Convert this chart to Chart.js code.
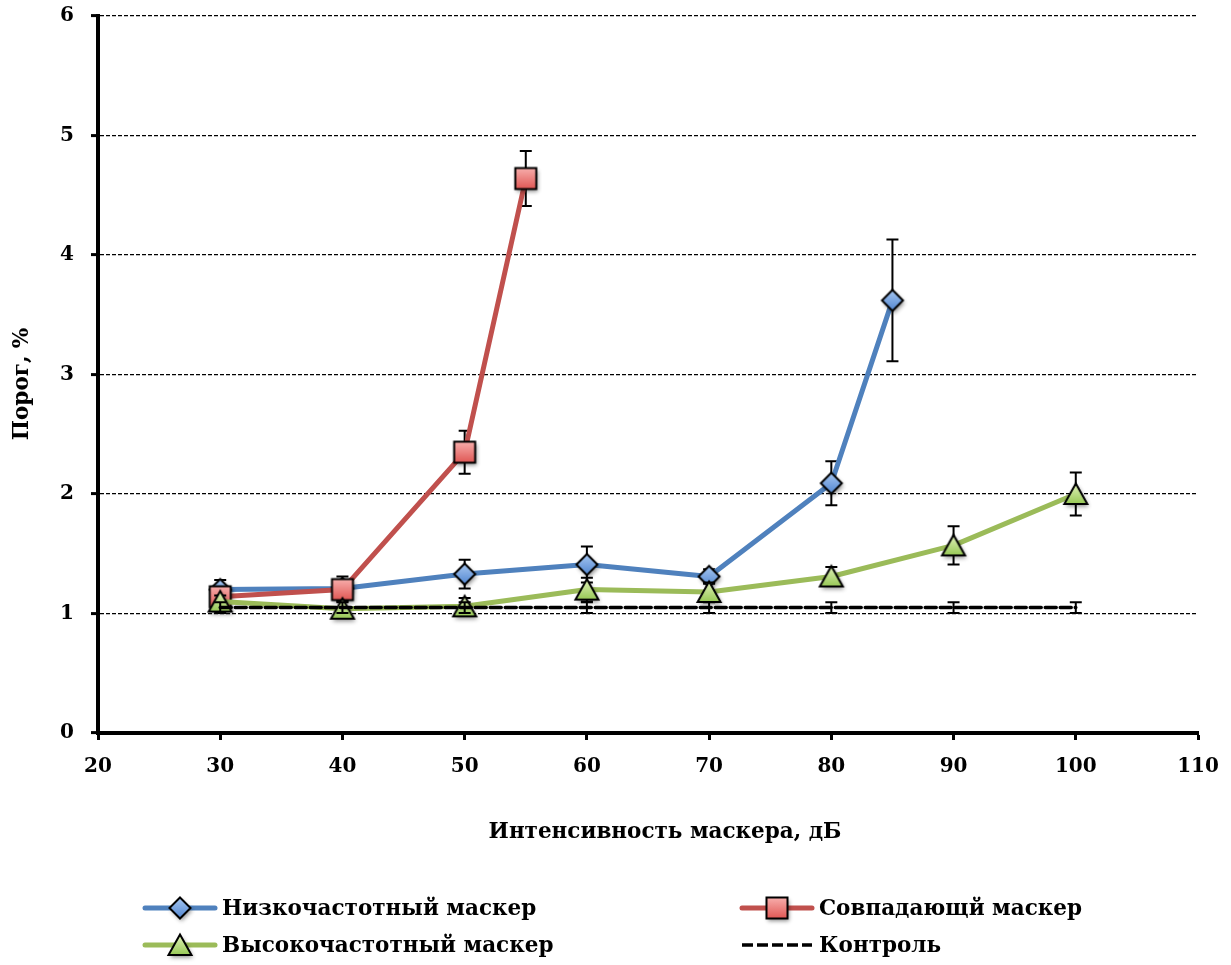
<!DOCTYPE html>
<html>
<head>
<meta charset="utf-8">
<script src="https://cdn.jsdelivr.net/npm/chart.js@4.4.1/dist/chart.umd.min.js"></script>
<style>
  html, body { margin: 0; padding: 0; background: #ffffff; }
  #wrap { width: 1231px; height: 965px; position: relative; }
</style>
</head>
<body>
<div id="wrap"><canvas id="chart"></canvas></div>
<script>
// Masker intensity (dB) for each series
const xLow = [30, 40, 50, 60, 70, 80, 85];
const xMatch = [30, 40, 50, 55];
const xHigh = [30, 40, 50, 60, 70, 80, 90, 100];
const xControl = [30, 40, 50, 60, 70, 80, 90, 100];

// Threshold, % (means)
const lowMasker = [1.20, 1.21, 1.33, 1.41, 1.31, 2.09, 3.62];
const matchMasker = [1.14, 1.20, 2.35, 4.64];
const highMasker = [1.10, 1.04, 1.06, 1.20, 1.18, 1.31, 1.57, 2.00];
const control = [1.05, 1.05, 1.05, 1.05, 1.05, 1.05, 1.05, 1.05];

// Error bar half-widths
const lowErr = [0.08, 0.10, 0.12, 0.15, 0.06, 0.185, 0.51];
const matchErr = [0.05, 0.08, 0.18, 0.23];
const highErr = [0.05, 0.06, 0.07, 0.10, 0.08, 0.08, 0.16, 0.18];
const controlErr = [0.045, 0.045, 0.045, 0.045, 0.045, 0.045, 0.045, 0.045];

// Series and axis labels
const seriesNames = ['Низкочастотный маскер', 'Совпадающй маскер', 'Высокочастотный маскер', 'Контроль'];
const xTitle = 'Интенсивность маскера, дБ';
const yTitle = 'Порог, %';

const FONT = '"DejaVu Serif", "Liberation Serif", serif';

function pairs(xs, ys) { return xs.map((x, i) => ({ x: x, y: ys[i] })); }

// Marker sprites with a vertical gradient, black outline and soft drop shadow
function makeMarker(kind, top, bottom) {
  const c = document.createElement('canvas');
  c.width = 38; c.height = 38;
  const g = c.getContext('2d');
  const cx = 19, cy = 19;
  g.beginPath();
  if (kind === 'diamond') {
    const r = 10.5;
    g.moveTo(cx, cy - r); g.lineTo(cx + r, cy); g.lineTo(cx, cy + r); g.lineTo(cx - r, cy);
  } else if (kind === 'square') {
    const h = 10.5;
    g.rect(cx - h, cy - h, 2 * h, 2 * h);
  } else {
    g.moveTo(cx, cy - 10.5); g.lineTo(cx + 11.5, cy + 10); g.lineTo(cx - 11.5, cy + 10);
  }
  g.closePath();
  const grad = g.createLinearGradient(0, cy - 11, 0, cy + 11);
  grad.addColorStop(0, top);
  grad.addColorStop(1, bottom);
  g.save();
  g.shadowColor = 'rgba(0,0,0,0.45)';
  g.shadowBlur = 4;
  g.shadowOffsetX = 1.5;
  g.shadowOffsetY = 2.5;
  g.fillStyle = grad;
  g.fill();
  g.restore();
  g.lineWidth = 2;
  g.strokeStyle = '#000000';
  g.lineJoin = 'miter';
  g.stroke();
  return c;
}

const diamondImg = makeMarker('diamond', '#a9c9f2', '#4f84cf');
const squareImg = makeMarker('square', '#f8b0ae', '#df5552');
const triangleImg = makeMarker('triangle', '#e4f3be', '#93c650');

// Vertical error bars drawn just beneath each dataset's own line and markers
const errorBarPlugin = {
  id: 'errorBars',
  beforeDatasetDraw(chart, args) {
    const ds = chart.data.datasets[args.index];
    if (!ds.errorBars) return;
    const yScale = chart.scales.y;
    const ctx = chart.ctx;
    ctx.save();
    ctx.strokeStyle = '#000000';
    ctx.lineWidth = 2;
    ctx.setLineDash([]);
    args.meta.data.forEach((pt, i) => {
      const e = ds.errorBars[i];
      if (e == null) return;
      const v = ds.data[i].y;
      const yTop = yScale.getPixelForValue(v + e);
      const yBot = yScale.getPixelForValue(v - e);
      const x = pt.x;
      ctx.beginPath();
      ctx.moveTo(x, yTop); ctx.lineTo(x, yBot);
      ctx.moveTo(x - 6, yTop); ctx.lineTo(x + 6, yTop);
      ctx.moveTo(x - 6, yBot); ctx.lineTo(x + 6, yBot);
      ctx.stroke();
    });
    ctx.restore();
  }
};

// Axis titles and two-column legend
const legendPlugin = {
  id: 'twoColLegend',
  afterDraw(chart) {
    const ctx = chart.ctx;
    ctx.save();
    ctx.fillStyle = '#000000';
    ctx.font = 'bold 21.5px ' + FONT;
    ctx.textAlign = 'center';
    ctx.textBaseline = 'middle';
    ctx.fillText(xTitle, 665, 832);

    ctx.save();
    ctx.translate(22, 384);
    ctx.rotate(-Math.PI / 2);
    ctx.fillText(yTitle, 0, 0);
    ctx.restore();

    const slots = [
      { col: 145, row: 908 },
      { col: 742, row: 908 },
      { col: 145, row: 945 },
      { col: 742, row: 945 }
    ];
    chart.data.datasets.forEach((ds, i) => {
      const s = slots[i];
      ctx.beginPath();
      ctx.lineWidth = ds.borderWidth;
      ctx.strokeStyle = ds.borderColor;
      ctx.lineCap = ds.borderDash ? 'butt' : 'round';
      ctx.setLineDash(ds.borderDash || []);
      ctx.moveTo(s.col, s.row);
      ctx.lineTo(s.col + 70, s.row);
      ctx.stroke();
      ctx.setLineDash([]);
      if (ds.pointStyle instanceof HTMLCanvasElement) {
        const img = ds.pointStyle;
        ctx.drawImage(img, s.col + 35 - img.width / 2, s.row - img.height / 2);
      }
      ctx.fillStyle = '#000000';
      ctx.font = 'bold 21.5px ' + FONT;
      ctx.textAlign = 'left';
      ctx.textBaseline = 'middle';
      ctx.fillText(ds.label, s.col + 77, s.row + 1);
    });
    ctx.restore();
  }
};

const tickFont = { family: FONT, size: 20, weight: 'bold', lineHeight: 1.2 };

new Chart(document.getElementById('chart'), {
  type: 'line',
  data: {
    datasets: [
      {
        label: seriesNames[0],
        data: pairs(xLow, lowMasker),
        errorBars: lowErr,
        borderColor: '#4f81bd',
        borderWidth: 5,
        pointStyle: diamondImg,
        order: 4
      },
      {
        label: seriesNames[1],
        data: pairs(xMatch, matchMasker),
        errorBars: matchErr,
        borderColor: '#c0504d',
        borderWidth: 5,
        pointStyle: squareImg,
        order: 3
      },
      {
        label: seriesNames[2],
        data: pairs(xHigh, highMasker),
        errorBars: highErr,
        borderColor: '#9bbb59',
        borderWidth: 5,
        pointStyle: triangleImg,
        order: 2
      },
      {
        label: seriesNames[3],
        data: pairs(xControl, control),
        errorBars: controlErr,
        borderColor: '#000000',
        borderWidth: 3.5,
        borderDash: [11, 4],
        pointRadius: 0,
        pointStyle: false,
        order: 1
      }
    ]
  },
  options: {
    responsive: true,
    maintainAspectRatio: false,
    animation: false,
    events: [],
    layout: { padding: { top: 16, right: 33, bottom: 115, left: 0 } },
    elements: {
      line: { tension: 0, fill: false, borderCapStyle: 'round', borderJoinStyle: 'round' },
      point: { radius: 11, hoverRadius: 11 }
    },
    plugins: {
      legend: { display: false },
      tooltip: { enabled: false }
    },
    scales: {
      x: {
        type: 'linear',
        min: 20,
        max: 110,
        afterFit(scale) {
          scale.height = 117;
          scale.paddingLeft = 0;
          scale.paddingRight = 0;
        },
        ticks: { stepSize: 10, color: '#000000', font: tickFont, padding: 15, maxRotation: 0 },
        grid: {
          drawOnChartArea: false,
          drawTicks: true,
          tickLength: 7,
          tickWidth: 3,
          tickColor: '#000000',
          color: '#000000'
        },
        border: { display: true, color: '#000000', width: 4 },
        title: { display: false }
      },
      y: {
        type: 'linear',
        min: 0,
        max: 6,
        afterFit(scale) {
          scale.width = 98;
          scale.paddingTop = 0;
          scale.paddingBottom = 0;
        },
        ticks: { stepSize: 1, color: '#000000', font: tickFont, padding: 17 },
        grid: {
          drawOnChartArea: true,
          drawTicks: true,
          tickLength: 7,
          tickWidth: 3,
          tickColor: '#000000',
          tickBorderDash: [],
          lineWidth: 1.2,
          color: (c) => (c.tick && c.tick.value === 0 ? 'rgba(0,0,0,0)' : '#000000')
        },
        border: { display: true, color: '#000000', width: 4, dash: [4, 2] },
        title: { display: false }
      }
    }
  },
  plugins: [errorBarPlugin, legendPlugin]
});
</script>
</body>
</html>
